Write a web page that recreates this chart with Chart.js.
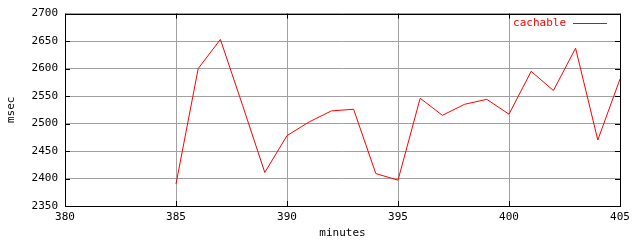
<!DOCTYPE html>
<html>
<head>
<meta charset="utf-8">
<script src="https://cdn.jsdelivr.net/npm/chart.js@4"></script>
<style>
  html, body { margin: 0; padding: 0; background: #fff; }
  #wrap { width: 640px; height: 240px; }
</style>
</head>
<body>
<div id="wrap"><canvas id="chart" width="640" height="240"></canvas></div>
<script>
const minutes = [385, 386, 387, 388, 389, 390, 391, 392, 393, 394, 395,
                 396, 397, 398, 399, 400, 401, 402, 403, 404, 405];
const cachable = [2390, 2600, 2653, 2533, 2411, 2478, 2503, 2523, 2526, 2409, 2397,
                  2546, 2515, 2535, 2544, 2517, 2595, 2560, 2637, 2470, 2581];
const xTicks = [380, 385, 390, 395, 400, 405];
const yTicks = [2350, 2400, 2450, 2500, 2550, 2600, 2650, 2700];

const font = { family: "DejaVu Sans Mono", size: 11 };

// box round the plot, small black tick marks, and the gnuplot style key
const frame = {
  id: "frame",
  afterDraw(chart) {
    const { ctx, chartArea: a, scales } = chart;
    ctx.save();
    ctx.strokeStyle = "#000";
    ctx.lineWidth = 1;
    ctx.beginPath();
    xTicks.forEach(v => {
      const x = Math.round(scales.x.getPixelForValue(v)) + 0.5;
      ctx.moveTo(x, a.top); ctx.lineTo(x, a.top + 5);
      ctx.moveTo(x, a.bottom); ctx.lineTo(x, a.bottom - 5);
    });
    yTicks.forEach(v => {
      const y = Math.round(scales.y.getPixelForValue(v)) + 0.5;
      ctx.moveTo(a.left, y); ctx.lineTo(a.left + 5, y);
      ctx.moveTo(a.right, y); ctx.lineTo(a.right - 5, y);
    });
    ctx.stroke();
    ctx.strokeRect(Math.round(a.left) + 0.5, Math.round(a.top) + 0.5,
                   Math.round(a.right - a.left), Math.round(a.bottom - a.top));

    const ds = chart.data.datasets[0];
    ctx.fillStyle = ds.borderColor;
    ctx.font = "11px 'DejaVu Sans Mono'";
    ctx.textAlign = "right";
    ctx.textBaseline = "middle";
    ctx.fillText(ds.label, 566, 23);
    ctx.strokeStyle = ds.borderColor;
    ctx.beginPath();
    ctx.moveTo(573, 23.5); ctx.lineTo(607, 23.5);
    ctx.stroke();
    ctx.restore();
  }
};

new Chart(document.getElementById("chart"), {
  type: "line",
  data: {
    datasets: [{
      label: "cachable",
      data: minutes.map((m, i) => ({ x: m, y: cachable[i] })),
      borderColor: "#ff0000",
      borderWidth: 1,
      pointRadius: 0,
      tension: 0,
      fill: false
    }]
  },
  options: {
    responsive: false,
    animation: false,
    layout: { padding: { top: 13, right: 20, left: 0, bottom: 0 } },
    plugins: { legend: { display: false }, tooltip: { enabled: false } },
    scales: {
      x: {
        type: "linear",
        min: 380, max: 405,
        afterBuildTicks: s => { s.ticks = xTicks.map(v => ({ value: v })); },
        afterFit: s => { s.height = 34; },
        grid: { color: "#a0a0a0", drawTicks: false },
        border: { display: false },
        ticks: { color: "#000", font, padding: 5, maxRotation: 0, callback: v => String(v) },
        title: { display: true, text: "minutes", color: "#000", font, padding: 0 }
      },
      y: {
        min: 2350, max: 2700,
        afterBuildTicks: s => { s.ticks = yTicks.map(v => ({ value: v })); },
        afterFit: s => { s.width = 65; },
        grid: { color: "#a0a0a0", drawTicks: false },
        border: { display: false },
        ticks: { color: "#000", font, padding: 7, callback: v => String(v) },
        title: { display: true, text: "msec", color: "#000", font, padding: { top: 5 } }
      }
    }
  },
  plugins: [frame]
});
</script>
</body>
</html>
